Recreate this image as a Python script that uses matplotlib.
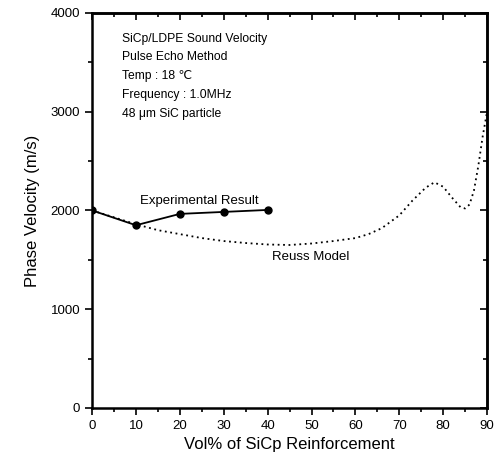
import matplotlib.pyplot as plt
from matplotlib.ticker import MultipleLocator

plt.rcParams['font.family'] = ['Liberation Sans', 'DejaVu Sans']

# 実験値
exp_x = [0, 10, 20, 30, 40]
exp_v = [2000, 1850, 1965, 1985, 2005]

# Reuss model
reuss_x = [0, 5, 10, 15, 20, 25, 30, 35, 40, 45, 50, 55, 60, 63, 66, 70, 73, 76, 78, 80, 82, 84, 85, 86, 87, 88, 89, 90]
reuss_v = [2000, 1930, 1860, 1800, 1760, 1720, 1690, 1670, 1655, 1650, 1665, 1690, 1720, 1760, 1820,
           1950, 2100, 2230, 2285, 2240, 2130, 2030, 2020, 2060, 2200, 2450, 2750, 3000]

info = "SiCp/LDPE Sound Velocity\nPulse Echo Method\nTemp : 18 \u2103\nFrequency : 1.0MHz\n48 \u03bcm SiC particle"

fig = plt.figure(figsize=(4.95, 4.63), dpi=100)
ax = fig.add_axes([0.186, 0.119, 0.798, 0.853])

ax.plot(reuss_x, reuss_v, color='black', linestyle=(0, (1, 2)), linewidth=1.3)
ax.plot(exp_x, exp_v, color='black', linestyle='-', linewidth=1.3, marker='o', markersize=5)

ax.set_xlim(0, 90)
ax.set_ylim(0, 4000)
ax.xaxis.set_major_locator(MultipleLocator(10))
ax.xaxis.set_minor_locator(MultipleLocator(5))
ax.yaxis.set_major_locator(MultipleLocator(1000))
ax.yaxis.set_minor_locator(MultipleLocator(500))
ax.tick_params(which='both', direction='out', width=1.2, labelsize=9.5)
ax.tick_params(which='major', length=5)
ax.tick_params(which='minor', length=3)
# 上と右の目盛りは内向き
sec_x = ax.secondary_xaxis('top')
sec_x.xaxis.set_major_locator(MultipleLocator(10))
sec_x.xaxis.set_minor_locator(MultipleLocator(5))
sec_x.tick_params(which='both', direction='in', width=1.2, labeltop=False)
sec_x.tick_params(which='major', length=5)
sec_x.tick_params(which='minor', length=3)
sec_y = ax.secondary_yaxis('right')
sec_y.yaxis.set_major_locator(MultipleLocator(1000))
sec_y.yaxis.set_minor_locator(MultipleLocator(500))
sec_y.tick_params(which='both', direction='in', width=1.2, labelright=False)
sec_y.tick_params(which='major', length=5)
sec_y.tick_params(which='minor', length=3)
for s in list(ax.spines.values()) + [sec_x.spines['top'], sec_y.spines['right']]:
    s.set_linewidth(1.8)

ax.set_xlabel('Vol% of SiCp Reinforcement', fontsize=12)
ax.set_ylabel('Phase Velocity (m/s)', fontsize=12, labelpad=8)

ax.text(0.075, 0.95, info, transform=ax.transAxes, fontsize=8.7, va='top', linespacing=1.75)
ax.text(11, 2070, 'Experimental Result', fontsize=9.5)
ax.text(41, 1500, 'Reuss Model', fontsize=9.5)

plt.savefig('out.png')
